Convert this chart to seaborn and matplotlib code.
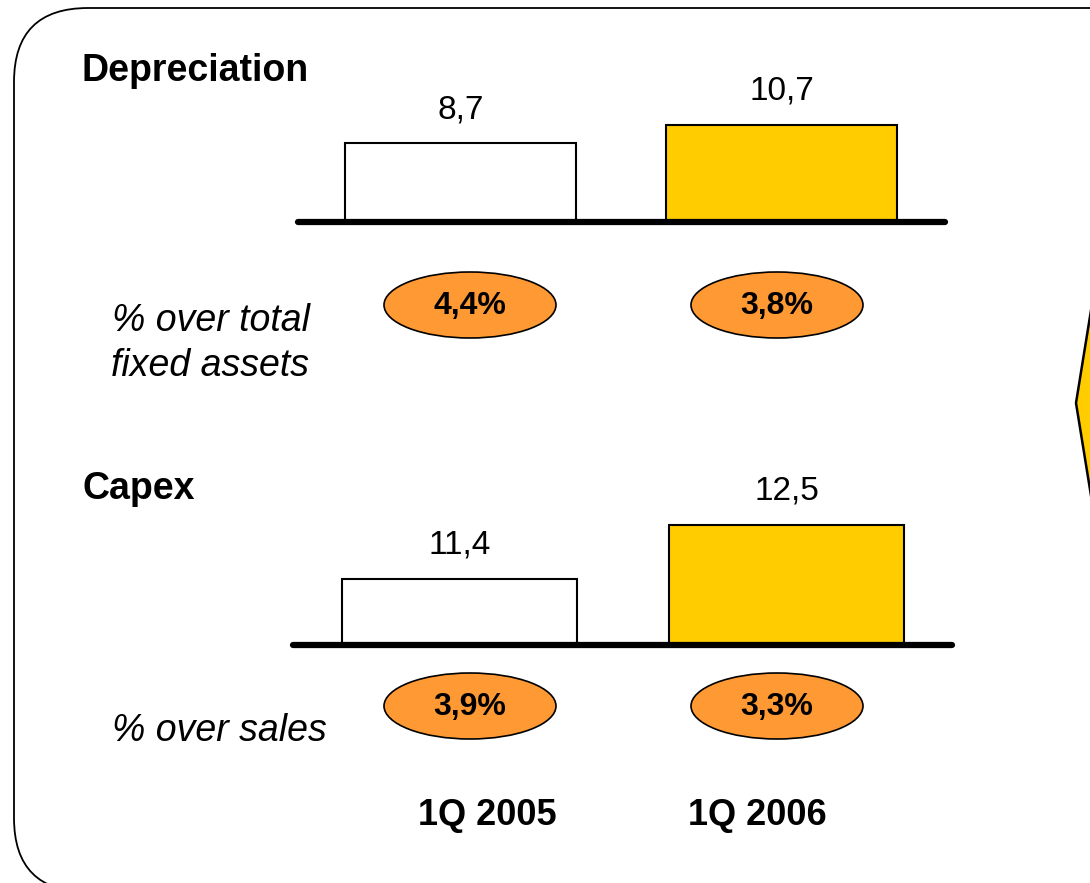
import matplotlib
matplotlib.use("Agg")
import matplotlib.pyplot as plt
from matplotlib.patches import FancyBboxPatch, Ellipse, Polygon
import seaborn as sns
import pandas as pd

# ---- data ----
quarters = ["1Q 2005", "1Q 2006"]
depreciation = [8.7, 10.7]
capex = [11.4, 12.5]
pct_fixed_assets = [4.4, 3.8]
pct_sales = [3.9, 3.3]
bar_colors = ["#FFFFFF", "#FFCC00"]

sns.set_style("white")
plt.rcParams["font.family"] = ["Liberation Sans", "DejaVu Sans"]
plt.rcParams["text.color"] = "black"

W, H = 1090, 883
fig = plt.figure(figsize=(W / 100, H / 100), dpi=100)


def px_axes(left, right, top, bottom, **kw):
    return fig.add_axes([left / W, (H - bottom) / H, (right - left) / W, (bottom - top) / H], **kw)


def comma(v, fmt="{:.1f}"):
    return fmt.format(v).replace(".", ",")


# background overlay in pixel coordinates
ov = px_axes(0, W, 0, H, zorder=0)
ov.set_xlim(0, W)
ov.set_ylim(H, 0)
ov.axis("off")

frame = FancyBboxPatch((14, 8), 1200, 884, boxstyle="round,pad=0,rounding_size=74",
                       fc="white", ec="black", lw=1.3, clip_on=True)
ov.add_patch(frame)

arrow_tip = Polygon([(1076, 403), (1093, 298), (1130, 298), (1130, 508), (1093, 508)],
                    closed=True, fc="#FFCC00", ec="black", lw=1.8, zorder=3)
ov.add_patch(arrow_tip)


def bar_panel(values, left, right, top, bottom, ymin, ymax, xlim, width):
    ax = px_axes(left, right, top, bottom, zorder=2)
    ax.patch.set_alpha(0)
    df = pd.DataFrame({"quarter": quarters, "value": values})
    sns.barplot(data=df, x="quarter", y="value", hue="quarter", palette=bar_colors,
                width=width, edgecolor="black", linewidth=1.5, legend=False, ax=ax,
                saturation=1)
    ax.set_xlim(*xlim)
    ax.set_ylim(ymin, ymax)
    for c in ax.containers:
        ax.bar_label(c, labels=[comma(v) for v in c.datavalues], padding=13,
                     fontsize=24, color="black")
    ax.plot(list(xlim), [ymin, ymin], color="black", lw=4.5, solid_capstyle="round",
            clip_on=False, zorder=5)
    ax.set_axis_off()
    return ax


# Depreciation: zero-based scale
bar_panel(depreciation, 298, 945, 95, 222, 0, 14.0, (-0.506, 1.509), 0.72)
# Capex: scale starting above zero
bar_panel(capex, 293, 952, 580 - 80, 645, 10.05, 10.05 + 145 / 49.0, (-0.509, 1.506), 0.716)

# section titles
ov.text(82, 81, "Depreciation", fontsize=27, fontweight="bold", ha="left", va="baseline")
ov.text(82, 499, "Capex", fontsize=27, fontweight="bold", ha="left", va="baseline")

# ratio captions
ov.text(310, 331, "% over total", fontsize=27, style="italic", ha="right", va="baseline")
ov.text(309, 376, "fixed assets", fontsize=27, style="italic", ha="right", va="baseline")
ov.text(112, 741, "% over sales", fontsize=27, style="italic", ha="left", va="baseline")

# ratio badges
ell_x = [470, 777]
for row_y, vals in ((305, pct_fixed_assets), (706, pct_sales)):
    for cx, v in zip(ell_x, vals):
        ov.add_patch(Ellipse((cx, row_y), 172, 66, fc="#FF9933", ec="black", lw=1.2, zorder=3))
        ov.text(cx, row_y + 1, comma(v) + "%", fontsize=23, fontweight="bold",
                ha="center", va="center", zorder=4)

# period labels
for cx, q in zip([487, 757], quarters):
    ov.text(cx, 825, q, fontsize=26, fontweight="bold", ha="center", va="baseline")

fig.savefig("out.png", dpi=100)
